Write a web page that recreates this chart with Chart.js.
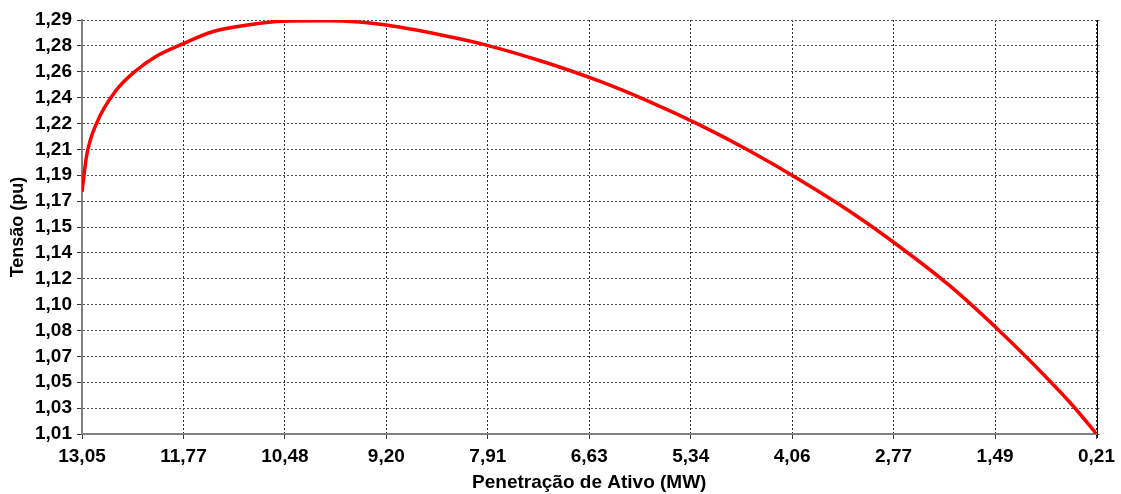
<!DOCTYPE html>
<html>
<head>
<meta charset="utf-8">
<script src="https://cdn.jsdelivr.net/npm/chart.js@4/dist/chart.umd.min.js"></script>
<style>
  html, body { margin: 0; padding: 0; background: #ffffff; }
  #wrap { width: 1121px; height: 494px; position: relative; }
</style>
</head>
<body>
<div id="wrap"><canvas id="grafico"></canvas></div>
<script>
// Penetração de ativo (MW) e tensão resultante (pu)
const penetracao = [13.05, 12.99, 12.86, 12.62, 12.38, 12.12, 11.79, 11.39, 10.93, 10.51,
                    9.96, 9.54, 9.20, 8.82, 8.40, 7.91, 7.26, 6.50, 5.87, 5.24,
                    4.61, 3.98, 3.34, 2.71, 2.08, 1.45, 0.82, 0.50, 0.21];
const tensao = [1.1764, 1.2012, 1.2233, 1.2448, 1.2577, 1.2677, 1.2760, 1.2847, 1.2893, 1.2917,
                1.2920, 1.2911, 1.2891, 1.2857, 1.2812, 1.2752, 1.2651, 1.2511, 1.2373, 1.2217,
                1.2042, 1.1848, 1.1633, 1.1395, 1.1133, 1.0828, 1.0494, 1.0311, 1.0125];

// Rótulos dos eixos
const rotulosX = ['13,05', '11,77', '10,48', '9,20', '7,91', '6,63', '5,34', '4,06', '2,77', '1,49', '0,21'];
const rotulosY = ['1,01', '1,03', '1,05', '1,07', '1,08', '1,10', '1,12', '1,14', '1,15',
                  '1,17', '1,19', '1,21', '1,22', '1,24', '1,26', '1,28', '1,29'];
const xMin = 0.21, xMax = 13.05;
const yMin = 1.0125, yMax = 1.2925;

const fonte = '"Liberation Sans", Arial, sans-serif';

// ticks espaçados uniformemente entre os limites do eixo
function ticksUniformes(inicio, fim, n) {
  const out = [];
  for (let i = 0; i < n; i++) out.push({ value: inicio + i * (fim - inicio) / (n - 1) });
  return out;
}

// borda direita sólida da área de plotagem
const bordaDireita = {
  id: 'bordaDireita',
  afterDraw(chart) {
    const { ctx, chartArea: a } = chart;
    ctx.save();
    ctx.setLineDash([]);
    ctx.strokeStyle = '#000000';
    ctx.lineWidth = 1;
    const x = Math.round(a.right) + 0.5;
    ctx.beginPath();
    ctx.moveTo(x, a.top);
    ctx.lineTo(x, a.bottom + 4);
    ctx.stroke();
    ctx.restore();
  }
};

new Chart(document.getElementById('grafico'), {
  type: 'line',
  data: {
    datasets: [{
      data: penetracao.map((p, i) => ({ x: p, y: tensao[i] })),
      borderColor: '#ff0000',
      borderWidth: 3.5,
      pointRadius: 0,
      cubicInterpolationMode: 'monotone',
      fill: false,
      yAxisID: 'y'
    }]
  },
  options: {
    responsive: true,
    maintainAspectRatio: false,
    animation: false,
    layout: { padding: { top: 20, right: 0, left: 0, bottom: 0 } },
    plugins: { legend: { display: false }, tooltip: { enabled: false } },
    scales: {
      x: {
        type: 'linear',
        reverse: true,
        min: xMin,
        max: xMax,
        afterBuildTicks: s => { s.ticks = ticksUniformes(xMax, xMin, rotulosX.length); },
        afterFit: s => { s.height = 60; },
        ticks: {
          autoSkip: false,
          maxRotation: 0,
          padding: 6,
          color: '#000000',
          font: { family: fonte, size: 19, weight: 'bold' },
          callback: (v, i) => rotulosX[i]
        },
        grid: {
          color: '#333333',
          lineWidth: 1,
          drawTicks: true,
          tickLength: 5,
          tickColor: '#333333',
          tickBorderDash: []
        },
        border: { display: true, color: '#808080', width: 2, dash: [2, 2] },
        title: {
          display: true,
          text: 'Penetração de Ativo (MW)',
          color: '#000000',
          font: { family: fonte, size: 19, weight: 'bold' },
          padding: { top: 0, bottom: 0 }
        }
      },
      y: {
        type: 'linear',
        position: 'left',
        min: yMin,
        max: yMax,
        afterBuildTicks: s => { s.ticks = ticksUniformes(yMin, yMax, rotulosY.length); },
        afterFit: s => { s.width = 82; },
        ticks: {
          autoSkip: false,
          padding: 5,
          color: '#000000',
          font: { family: fonte, size: 19, weight: 'bold' },
          callback: (v, i) => rotulosY[i]
        },
        grid: {
          color: '#555555',
          lineWidth: 1,
          drawTicks: true,
          tickLength: 5,
          tickColor: '#333333',
          tickBorderDash: []
        },
        border: { display: true, color: '#808080', width: 2, dash: [2, 2] },
        title: {
          display: true,
          text: 'Tensão (pu)',
          color: '#000000',
          font: { family: fonte, size: 18, weight: 'bold' },
          padding: { top: 7, bottom: 0 }
        }
      },
      yDireita: {
        type: 'linear',
        position: 'right',
        min: yMin,
        max: yMax,
        afterBuildTicks: s => { s.ticks = ticksUniformes(yMin, yMax, rotulosY.length); },
        afterFit: s => { s.width = 23; },
        ticks: { display: false },
        grid: {
          drawOnChartArea: false,
          drawTicks: true,
          tickLength: 3,
          tickColor: '#555555',
          tickBorderDash: []
        },
        border: { display: false }
      }
    }
  },
  plugins: [bordaDireita]
});
</script>
</body>
</html>
